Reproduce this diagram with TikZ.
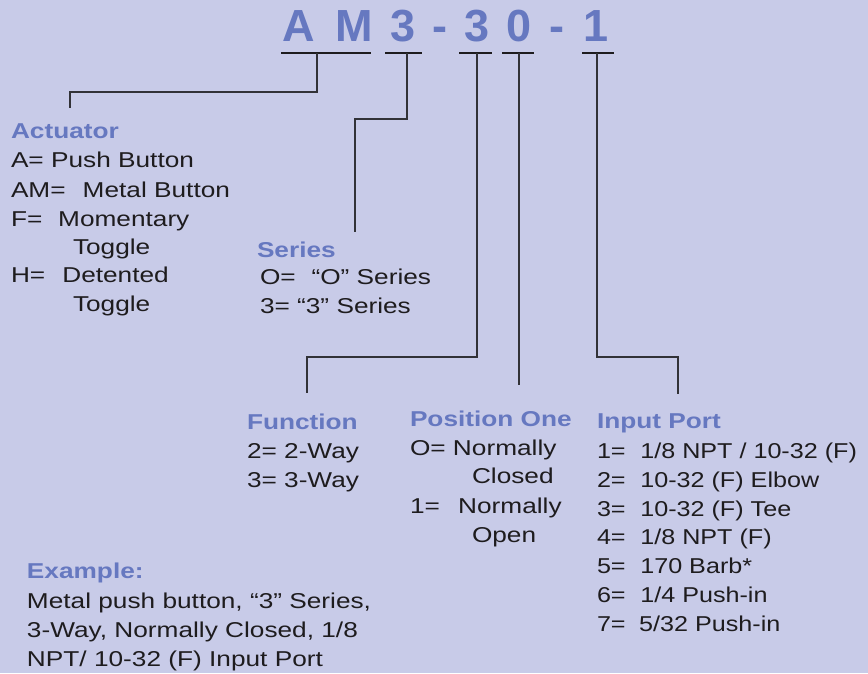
\documentclass[tikz,border=0pt]{standalone}
\usepackage{fontspec}
\setmainfont{Liberation Sans}
\definecolor{bg}{RGB}{200,203,232}
\definecolor{hd}{RGB}{102,120,192}
\definecolor{tx}{RGB}{30,28,30}
\definecolor{ln}{RGB}{50,50,55}
\begin{document}
\begin{tikzpicture}[x=1pt,y=-1pt,
  tb/.style={anchor=base west, inner sep=0pt, outer sep=0pt, text=tx, font=\fontsize{21.5}{29}\selectfont},
  tt/.style={tb, xscale=1.22},
  ip/.style={tb, xscale=1.17},
  hh/.style={tt, text=hd, font=\fontsize{21.5}{29}\selectfont\bfseries},
  big/.style={anchor=base, inner sep=0pt, text=hd, font=\fontsize{45}{50}\selectfont\bfseries},
  uline/.style={line width=2.8pt, draw=tx},
  conn/.style={line width=1.3pt, draw=ln}]
\useasboundingbox (0,0) rectangle (868,673);
\fill[bg] (0,0) rectangle (868,673);

% title
\node[big] (tA) at (299,41) {A};
\node[big] (tM) at (354,41) {M};
\node[big] (t3) at (403,41) {3};
\node[big] (td1) at (440,41) {-};
\node[big] (t3b) at (477,41) {3};
\node[big] (t0) at (519,41) {0};
\node[big] (td2) at (557,41) {-};
\node[big] (t1) at (596,41) {1};

% underlines
\coordinate (u1a) at (281,53); \coordinate (u1b) at (371,53);
\coordinate (u2a) at (385,53); \coordinate (u2b) at (422,53);
\coordinate (u3a) at (459,53); \coordinate (u3b) at (492,53);
\coordinate (u4a) at (502,53); \coordinate (u4b) at (534,53);
\coordinate (u5a) at (582,53); \coordinate (u5b) at (614,53);
\draw[uline] (u1a) -- (u1b);
\draw[uline] (u2a) -- (u2b);
\draw[uline] (u3a) -- (u3b);
\draw[uline] (u4a) -- (u4b);
\draw[uline] (u5a) -- (u5b);

% connectors
\coordinate (c1s) at (317,53); \coordinate (c1m) at (317,92); \coordinate (c1e) at (70,108);
\draw[conn] (c1s) -- (c1m) -| (c1e);
\coordinate (c2s) at (407,53); \coordinate (c2m) at (407,119); \coordinate (c2e) at (355,232);
\draw[conn] (c2s) -- (c2m) -| (c2e);
\coordinate (c3s) at (477,53); \coordinate (c3m) at (477,357); \coordinate (c3e) at (307,393);
\draw[conn] (c3s) -- (c3m) -| (c3e);
\coordinate (c4s) at (519,53); \coordinate (c4e) at (519,385);
\draw[conn] (c4s) -- (c4e);
\coordinate (c5s) at (597,53); \coordinate (c5m) at (597,357); \coordinate (c5e) at (678,394);
\draw[conn] (c5s) -- (c5m) -| (c5e);

% Actuator
\node[hh] (act) at (11,138) {Actuator};
\node[tt] (act1) at (11,167) {A= Push Button};
\node[tt] (act2) at (11,197) {AM=\hspace*{14pt}Metal Button};
\node[tt] (act3) at (11,226) {F=\hspace*{13pt}Momentary};
\node[tt] (act4) at (73,254) {Toggle};
\node[tt] (act5) at (11,282) {H=\hspace*{14pt}Detented};
\node[tt] (act6) at (73,311) {Toggle};

% Series
\node[hh] (ser) at (257,257) {Series};
\node[tt] (ser1) at (260,284) {O=\hspace*{13pt}“O” Series};
\node[tt] (ser2) at (260,313) {3= “3” Series};

% Function
\node[hh] (fun) at (247,429) {Function};
\node[tt] (fun1) at (247,458) {2= 2-Way};
\node[tt] (fun2) at (247,487) {3= 3-Way};

% Position One
\node[hh] (pos) at (410,426) {Position One};
\node[tt] (pos1) at (410,455) {O= Normally};
\node[tt] (pos2) at (472,483) {Closed};
\node[tt] (pos3) at (410,513) {1=\hspace*{15pt}Normally};
\node[tt] (pos4) at (472,542) {Open};

% Input Port
\node[hh] (inp) at (597,428) {Input Port};
\node[ip] (inp1) at (597,458) {1=\hspace*{12.5pt}1/8 NPT / 10-32 (F)};
\node[ip] (inp2) at (597,487) {2=\hspace*{12.5pt}10-32 (F) Elbow};
\node[ip] (inp3) at (597,516) {3=\hspace*{12.5pt}10-32 (F) Tee};
\node[ip] (inp4) at (597,544) {4=\hspace*{12.5pt}1/8 NPT (F)};
\node[ip] (inp5) at (597,573) {5=\hspace*{12.5pt}170 Barb*};
\node[ip] (inp6) at (597,602) {6=\hspace*{12.5pt}1/4 Push-in};
\node[ip] (inp7) at (597,631) {7=\hspace*{11.5pt}5/32 Push-in};

% Example
\node[hh] (ex) at (27,578) {Example:};
\node[tt] (ex1) at (27,608) {Metal push button, “3” Series,};
\node[tt] (ex2) at (27,637) {3-Way, Normally Closed, 1/8};
\node[tt] (ex3) at (27,666) {NPT/ 10-32 (F) Input Port};
\end{tikzpicture}
\end{document}
